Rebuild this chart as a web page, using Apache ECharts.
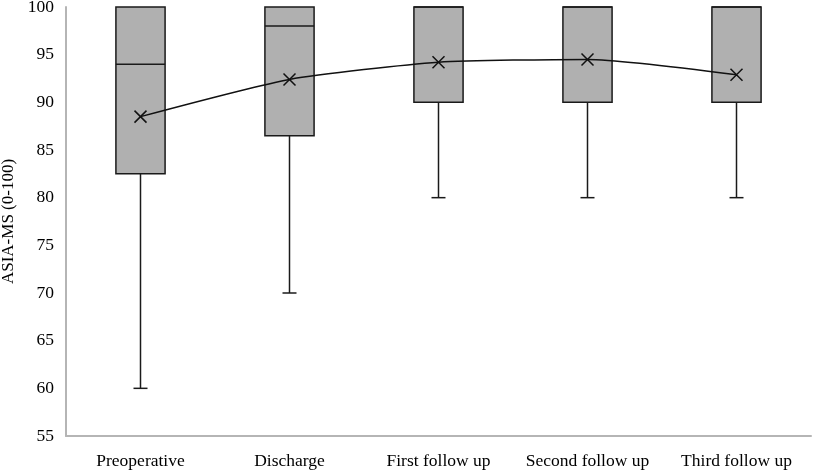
<!DOCTYPE html>
<html>
<head>
<meta charset="utf-8">
<script src="https://cdn.jsdelivr.net/npm/echarts@6/dist/echarts.min.js"></script>
<style>html,body{margin:0;padding:0;background:#fff}#c{width:813px;height:471px}</style>
</head>
<body>
<div id="c"></div>
<script>
var categories = ['Preoperative', 'Discharge', 'First follow up', 'Second follow up', 'Third follow up'];
var minVals = [60, 70, 80, 80, 80];
var q1Vals = [82.5, 86.5, 90, 90, 90];
var medianVals = [94, 98, 100, 100, 100];
var q3Vals = [100, 100, 100, 100, 100];
var maxVals = [100, 100, 100, 100, 100];
var meanVals = [88.5, 92.4, 94.2, 94.5, 92.9];
var yTicks = [55, 60, 65, 70, 75, 80, 85, 90, 95, 100];

var boxData = categories.map(function (c, i) {
  return [i, minVals[i], q1Vals[i], medianVals[i], q3Vals[i], maxVals[i]];
});

var chart = echarts.init(document.getElementById('c'));
var font = 'Liberation Serif, Times New Roman, serif';

function renderBox(params, api) {
  var x = api.value(0);
  var pMin = api.coord([x, api.value(1)]);
  var pQ1 = api.coord([x, api.value(2)]);
  var pMed = api.coord([x, api.value(3)]);
  var pQ3 = api.coord([x, api.value(4)]);
  var pMax = api.coord([x, api.value(5)]);
  var band = api.size([1, 0])[0];
  var bw = band * 0.33;
  var cap = 14;
  var cx = pQ1[0];
  var stroke = { stroke: '#1a1a1a', lineWidth: 1.5 };
  var children = [];
  children.push({ type: 'line', shape: { x1: cx, y1: pQ1[1], x2: cx, y2: pMin[1] }, style: stroke });
  children.push({ type: 'line', shape: { x1: cx - cap / 2, y1: pMin[1], x2: cx + cap / 2, y2: pMin[1] }, style: stroke });
  children.push({ type: 'line', shape: { x1: cx, y1: pQ3[1], x2: cx, y2: pMax[1] }, style: stroke });
  children.push({ type: 'rect', shape: { x: cx - bw / 2, y: pQ3[1], width: bw, height: pQ1[1] - pQ3[1] },
    style: { fill: '#b0b0b0', stroke: '#1a1a1a', lineWidth: 1.5 } });
  children.push({ type: 'line', shape: { x1: cx - bw / 2, y1: pMed[1], x2: cx + bw / 2, y2: pMed[1] }, style: stroke });
  return { type: 'group', children: children };
}

chart.setOption({
  animation: false,
  backgroundColor: '#fff',
  grid: { left: 66, right: 2, top: 7, bottom: 35, containLabel: false, outerBoundsMode: 'none' },
  xAxis: {
    type: 'category',
    data: categories,
    axisLine: { lineStyle: { color: '#b5b5b5', width: 2 } },
    axisTick: { show: false },
    axisLabel: { color: '#000', fontFamily: font, fontSize: 17.5, margin: 16, interval: 0 },
    splitLine: { show: false }
  },
  yAxis: {
    type: 'value',
    min: yTicks[0],
    max: yTicks[yTicks.length - 1],
    interval: 5,
    name: 'ASIA-MS (0-100)',
    nameLocation: 'middle',
    nameGap: 46,
    nameTextStyle: { color: '#000', fontFamily: font, fontSize: 17 },
    axisLine: { show: true, lineStyle: { color: '#b5b5b5', width: 2 } },
    axisTick: { show: false },
    axisLabel: { color: '#000', fontFamily: font, fontSize: 17.5, margin: 12 },
    splitLine: { show: false }
  },
  series: [
    {
      type: 'custom',
      renderItem: renderBox,
      data: boxData,
      encode: { x: 0, y: [1, 2, 3, 4, 5] },
      z: 2
    },
    {
      type: 'line',
      data: meanVals,
      smooth: 0.2,
      symbol: 'path://M0,0L10,10M10,0L0,10',
      symbolSize: 12,
      itemStyle: { color: '#111', borderColor: '#111', borderWidth: 1.5 },
      lineStyle: { color: '#111', width: 1.5 },
      z: 5
    }
  ]
});
</script>
</body>
</html>
